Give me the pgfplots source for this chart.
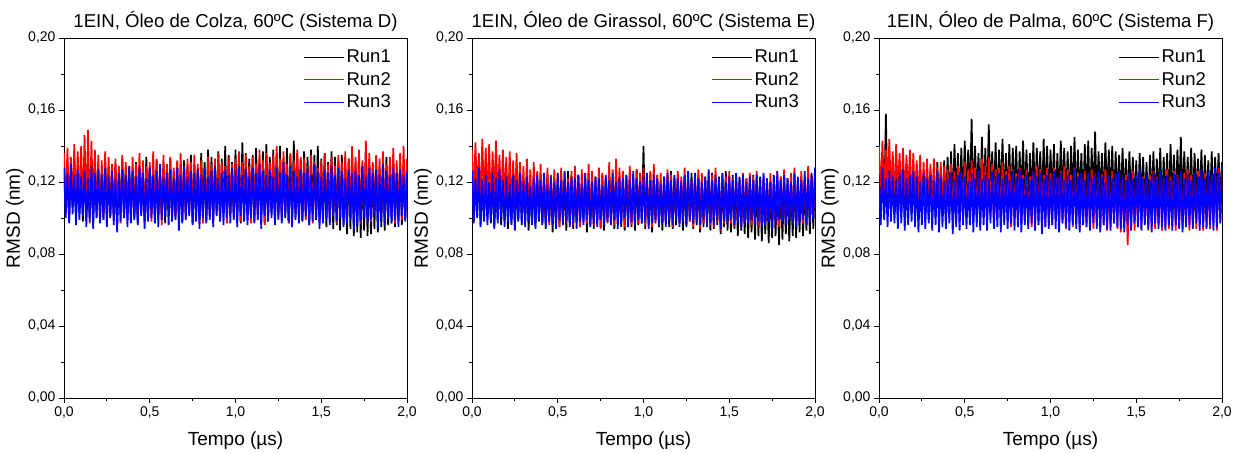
\documentclass[border=0pt]{standalone}
\usepackage{pgfplots}
\usepackage{pgfplotstable}
\pgfplotsset{compat=1.18}
\usepackage{fontspec}
\setmainfont{Liberation Sans}

% RMSD values in pm (0.001 nm), one value every 0.01 us
\pgfplotstableread[row sep=\\,header=false]{
128\\104\\131\\99\\125\\107\\133\\101\\127\\103\\
124\\98\\130\\105\\126\\100\\129\\97\\132\\104\\
127\\102\\125\\99\\131\\106\\128\\100\\124\\103\\
130\\98\\126\\104\\133\\101\\127\\99\\129\\105\\
125\\100\\131\\97\\128\\103\\126\\101\\134\\99\\
129\\104\\127\\98\\132\\102\\125\\100\\130\\97\\
128\\105\\133\\101\\126\\99\\131\\103\\127\\98\\
132\\100\\129\\104\\135\\97\\130\\102\\128\\99\\
136\\103\\131\\98\\138\\101\\134\\100\\129\\104\\
137\\99\\133\\102\\140\\98\\135\\103\\131\\100\\
138\\101\\134\\97\\142\\103\\136\\99\\133\\102\\
135\\98\\139\\104\\132\\100\\137\\97\\141\\101\\
134\\103\\138\\99\\136\\102\\140\\98\\133\\100\\
139\\97\\135\\101\\143\\99\\136\\103\\132\\98\\
137\\100\\134\\96\\138\\102\\135\\99\\140\\97\\
133\\101\\136\\95\\131\\98\\137\\94\\134\\96\\
132\\93\\135\\96\\130\\91\\133\\94\\136\\90\\
131\\92\\134\\89\\129\\93\\136\\90\\132\\91\\
130\\94\\133\\92\\128\\95\\131\\93\\134\\96\\
129\\97\\132\\95\\127\\98\\130\\96\\128\\99\\
127\\
}\DAa
\pgfplotstableread[row sep=\\,header=false]{
136\\105\\139\\101\\134\\108\\141\\103\\137\\106\\
140\\102\\146\\99\\149\\97\\143\\104\\138\\100\\
135\\98\\132\\101\\137\\96\\134\\103\\130\\99\\
133\\102\\129\\97\\135\\100\\131\\104\\128\\98\\
134\\101\\130\\99\\136\\103\\132\\97\\129\\102\\
131\\98\\137\\100\\133\\102\\129\\96\\135\\101\\
130\\104\\134\\99\\128\\101\\132\\97\\136\\103\\
129\\100\\133\\102\\131\\98\\135\\101\\130\\99\\
132\\97\\128\\103\\134\\100\\130\\98\\133\\102\\
136\\99\\131\\101\\129\\97\\134\\104\\130\\100\\
133\\102\\137\\98\\131\\100\\135\\103\\129\\97\\
134\\101\\130\\99\\138\\102\\132\\96\\136\\100\\
131\\103\\135\\98\\140\\101\\133\\99\\137\\102\\
130\\97\\136\\100\\132\\103\\138\\98\\134\\101\\
133\\99\\129\\102\\135\\97\\131\\100\\128\\103\\
132\\98\\136\\101\\130\\99\\134\\102\\129\\97\\
135\\100\\131\\103\\137\\98\\133\\101\\140\\99\\
134\\102\\138\\97\\132\\100\\143\\103\\136\\98\\
131\\101\\135\\99\\133\\102\\137\\98\\130\\100\\
134\\103\\139\\97\\132\\101\\136\\99\\140\\102\\
133\\
}\DAb
\pgfplotstableread[row sep=\\,header=false]{
128\\100\\125\\97\\130\\102\\124\\96\\127\\99\\
123\\101\\126\\95\\122\\98\\129\\94\\125\\100\\
127\\97\\124\\99\\128\\95\\123\\101\\126\\96\\
122\\92\\125\\98\\127\\100\\124\\95\\128\\97\\
126\\99\\123\\96\\129\\101\\125\\94\\122\\98\\
128\\100\\124\\97\\126\\95\\130\\99\\123\\101\\
125\\96\\127\\98\\122\\100\\128\\93\\124\\97\\
129\\99\\123\\101\\126\\96\\125\\98\\127\\94\\
124\\100\\128\\97\\123\\99\\126\\95\\129\\101\\
122\\98\\125\\96\\127\\100\\124\\97\\128\\99\\
126\\95\\129\\101\\124\\98\\127\\96\\123\\100\\
128\\97\\125\\99\\130\\94\\126\\101\\124\\98\\
127\\100\\123\\96\\128\\99\\125\\97\\131\\101\\
124\\98\\129\\95\\126\\100\\123\\97\\127\\99\\
125\\101\\128\\96\\124\\98\\130\\100\\126\\94\\
123\\97\\127\\99\\125\\96\\129\\101\\124\\98\\
128\\100\\126\\95\\122\\97\\127\\99\\125\\93\\
126\\96\\124\\98\\129\\100\\123\\97\\128\\99\\
125\\101\\127\\94\\124\\98\\130\\96\\126\\100\\
123\\97\\128\\99\\125\\95\\127\\101\\124\\98\\
126\\
}\DAc
\pgfplotstableread[row sep=\\,header=false]{
124\\98\\121\\101\\126\\96\\122\\99\\125\\100\\
120\\97\\123\\95\\119\\99\\124\\96\\121\\98\\
122\\94\\125\\97\\120\\95\\123\\98\\126\\96\\
121\\99\\124\\93\\118\\97\\122\\95\\125\\98\\
123\\96\\120\\94\\124\\98\\121\\92\\119\\97\\
125\\95\\122\\98\\120\\93\\126\\96\\123\\94\\
121\\97\\124\\95\\119\\98\\122\\92\\125\\96\\
120\\94\\123\\97\\121\\95\\124\\93\\122\\98\\
126\\96\\121\\94\\123\\97\\120\\95\\125\\93\\
122\\98\\124\\95\\121\\93\\127\\96\\123\\97\\
140\\94\\122\\96\\125\\92\\121\\97\\124\\95\\
120\\93\\123\\98\\121\\95\\126\\94\\122\\96\\
124\\97\\120\\93\\123\\95\\121\\98\\125\\94\\
122\\96\\124\\92\\120\\95\\123\\97\\121\\93\\
125\\94\\121\\96\\123\\91\\122\\95\\126\\93\\
120\\92\\124\\94\\121\\90\\123\\93\\119\\91\\
122\\89\\120\\92\\124\\88\\121\\90\\123\\87\\
119\\91\\122\\86\\120\\89\\124\\90\\121\\85\\
123\\88\\120\\91\\122\\87\\119\\90\\124\\89\\
121\\92\\123\\90\\120\\93\\122\\91\\125\\94\\
122\\
}\DBa
\pgfplotstableread[row sep=\\,header=false]{
138\\108\\142\\112\\136\\106\\144\\110\\139\\107\\
141\\105\\137\\111\\143\\108\\135\\106\\138\\110\\
134\\104\\137\\102\\132\\107\\136\\103\\131\\105\\
129\\100\\133\\102\\127\\98\\131\\101\\126\\99\\
130\\97\\125\\100\\128\\96\\124\\99\\127\\98\\
123\\95\\128\\99\\125\\97\\122\\100\\126\\96\\
129\\98\\124\\95\\127\\100\\125\\97\\130\\99\\
126\\96\\122\\99\\128\\94\\125\\98\\123\\97\\
131\\99\\127\\96\\133\\100\\128\\97\\126\\95\\
124\\98\\129\\96\\122\\99\\127\\97\\125\\100\\
128\\96\\123\\99\\126\\95\\130\\98\\124\\97\\
125\\99\\121\\96\\127\\98\\124\\95\\122\\99\\
126\\97\\123\\100\\128\\96\\124\\98\\121\\95\\
123\\98\\127\\94\\125\\97\\122\\99\\126\\96\\
124\\95\\128\\98\\121\\93\\125\\97\\123\\99\\
126\\97\\122\\95\\124\\99\\121\\96\\125\\98\\
122\\99\\125\\96\\123\\98\\126\\95\\121\\97\\
124\\96\\121\\98\\125\\94\\122\\97\\126\\95\\
123\\98\\127\\96\\122\\99\\125\\97\\128\\96\\
121\\99\\126\\97\\123\\96\\129\\98\\124\\100\\
127\\
}\DBb
\pgfplotstableread[row sep=\\,header=false]{
126\\97\\122\\100\\128\\95\\121\\98\\124\\96\\
120\\99\\125\\94\\122\\97\\127\\100\\121\\95\\
123\\98\\119\\96\\124\\93\\121\\99\\125\\97\\
120\\95\\123\\98\\118\\96\\122\\94\\124\\99\\
121\\97\\125\\95\\119\\98\\123\\96\\120\\94\\
124\\99\\121\\96\\126\\98\\120\\95\\123\\97\\
122\\94\\124\\98\\119\\96\\125\\99\\121\\95\\
120\\97\\123\\95\\122\\99\\118\\96\\124\\98\\
121\\96\\125\\99\\120\\94\\123\\97\\122\\100\\
124\\95\\121\\98\\126\\96\\122\\99\\120\\97\\
123\\98\\125\\94\\121\\97\\124\\99\\122\\96\\
119\\97\\123\\95\\125\\98\\121\\96\\124\\99\\
122\\95\\120\\98\\124\\96\\126\\99\\121\\97\\
125\\98\\122\\96\\120\\99\\123\\95\\127\\97\\
121\\96\\124\\99\\122\\94\\125\\98\\120\\97\\
123\\99\\121\\96\\125\\98\\122\\95\\124\\97\\
120\\97\\123\\99\\121\\96\\124\\98\\122\\95\\
125\\96\\122\\98\\120\\94\\123\\97\\126\\99\\
121\\98\\124\\96\\122\\99\\120\\97\\125\\95\\
123\\97\\121\\99\\126\\96\\122\\98\\124\\100\\
128\\
}\DBc
\pgfplotstableread[row sep=\\,header=false]{
128\\106\\133\\102\\158\\105\\131\\103\\129\\107\\
127\\101\\132\\104\\126\\100\\130\\105\\128\\102\\
125\\103\\129\\100\\127\\104\\124\\101\\130\\99\\
126\\104\\128\\101\\131\\106\\127\\103\\132\\105\\
134\\108\\137\\104\\141\\110\\136\\107\\139\\106\\
143\\109\\138\\111\\155\\107\\140\\112\\136\\108\\
145\\110\\139\\106\\152\\111\\137\\109\\142\\107\\
138\\112\\144\\108\\136\\110\\141\\106\\139\\111\\
140\\107\\137\\111\\143\\109\\138\\105\\136\\110\\
142\\108\\139\\112\\137\\106\\144\\110\\140\\109\\
138\\111\\141\\107\\136\\109\\143\\112\\139\\108\\
137\\106\\140\\110\\145\\108\\138\\111\\136\\107\\
141\\109\\143\\106\\139\\110\\148\\108\\137\\112\\
136\\107\\142\\111\\138\\109\\140\\106\\137\\110\\
135\\108\\139\\110\\133\\107\\137\\109\\134\\106\\
132\\105\\136\\109\\134\\107\\131\\104\\135\\108\\
137\\106\\133\\110\\139\\105\\134\\108\\136\\107\\
141\\109\\135\\106\\138\\110\\145\\107\\137\\109\\
134\\108\\139\\105\\136\\110\\133\\107\\138\\106\\
135\\109\\132\\107\\137\\105\\134\\110\\136\\108\\
131\\
}\DCa
\pgfplotstableread[row sep=\\,header=false]{
140\\110\\143\\112\\138\\108\\144\\111\\137\\109\\
141\\113\\136\\108\\139\\110\\135\\112\\138\\107\\
136\\106\\132\\109\\135\\104\\131\\107\\133\\105\\
130\\103\\133\\100\\128\\104\\131\\101\\129\\99\\
127\\102\\130\\98\\126\\100\\129\\97\\125\\101\\
131\\99\\127\\101\\132\\98\\128\\100\\126\\97\\
133\\100\\129\\98\\134\\101\\130\\96\\127\\99\\
128\\97\\131\\100\\126\\98\\129\\95\\127\\99\\
125\\98\\128\\96\\124\\99\\127\\97\\123\\95\\
126\\99\\129\\96\\127\\98\\124\\95\\128\\97\\
125\\96\\128\\99\\123\\95\\126\\97\\129\\94\\
127\\98\\124\\95\\128\\97\\125\\94\\122\\96\\
126\\95\\123\\97\\127\\94\\124\\96\\125\\93\\
124\\96\\127\\93\\123\\95\\126\\97\\122\\94\\
125\\92\\121\\96\\124\\85\\123\\95\\126\\93\\
122\\96\\125\\94\\123\\97\\121\\93\\124\\95\\
126\\94\\123\\96\\125\\93\\122\\95\\127\\94\\
123\\96\\126\\93\\124\\95\\121\\94\\125\\96\\
127\\93\\124\\95\\122\\94\\126\\96\\123\\93\\
125\\95\\122\\94\\124\\96\\126\\93\\128\\97\\
124\\
}\DCb
\pgfplotstableread[row sep=\\,header=false]{
124\\96\\128\\99\\122\\95\\126\\98\\123\\97\\
121\\94\\125\\97\\127\\93\\122\\96\\124\\98\\
126\\95\\123\\92\\120\\96\\125\\94\\122\\97\\
124\\93\\121\\96\\126\\92\\123\\95\\120\\94\\
122\\97\\125\\91\\121\\95\\124\\93\\126\\96\\
123\\94\\120\\96\\125\\92\\122\\95\\127\\93\\
121\\96\\124\\93\\122\\97\\126\\94\\123\\95\\
125\\92\\122\\96\\124\\94\\121\\97\\126\\93\\
123\\95\\127\\92\\122\\96\\124\\94\\121\\97\\
126\\93\\123\\96\\125\\91\\122\\95\\124\\94\\
122\\96\\126\\94\\123\\92\\125\\97\\121\\95\\
124\\93\\121\\96\\127\\94\\123\\92\\125\\96\\
121\\95\\125\\93\\122\\97\\124\\94\\126\\92\\
123\\96\\120\\94\\124\\93\\122\\97\\125\\95\\
126\\94\\123\\92\\121\\96\\125\\93\\122\\97\\
124\\95\\127\\93\\122\\96\\124\\94\\121\\92\\
125\\97\\122\\94\\126\\95\\123\\93\\124\\96\\
121\\93\\125\\96\\123\\94\\126\\92\\122\\95\\
124\\96\\121\\94\\125\\97\\123\\93\\127\\95\\
122\\94\\126\\96\\124\\93\\128\\95\\125\\97\\
129\\
}\DCc

\pgfplotsset{
  rmsd/.style={
    scale only axis, width=343pt, height=360pt, anchor=south west,
    xmin=0, xmax=2, ymin=0, ymax=0.2,
    xtick={0,0.5,1,1.5,2}, minor xtick={0.25,0.75,1.25,1.75},
    ytick={0,0.04,0.08,0.12,0.16,0.2}, minor ytick={0.02,0.06,0.1,0.14,0.18},
    tick align=outside, xtick pos=bottom, ytick pos=left,
    major tick length=5pt, minor tick length=3pt,
    every tick/.style={black, line width=0.8pt},
    axis line style={line width=0.8pt},
    xticklabel style={/pgf/number format/.cd, fixed, fixed zerofill, precision=1, use comma, assume math mode=true},
    yticklabel style={/pgf/number format/.cd, fixed, fixed zerofill, precision=2, use comma, assume math mode=true},
    tick label style={font=\fontsize{14}{14}\selectfont},
    scaled ticks=false,
    xlabel={Tempo (µs)}, ylabel={RMSD (nm)},
    label style={font=\fontsize{19}{19}\selectfont},
    x label style={at={(axis description cs:0.5,-0.117)}, anchor=center},
    y label style={at={(axis description cs:-0.143,0.5)}, anchor=center, rotate=0},
    title style={at={(axis description cs:0.5,1.03)}, anchor=center, font=\fontsize{18.6}{18.6}\selectfont},
    legend style={at={(axis description cs:0.968,0.978)}, anchor=north east, draw=none, fill=none,
      font=\fontsize{18.5}{18.5}\selectfont, row sep=4pt, cells={anchor=west}},
    legend image code/.code={\draw[#1, line width=0.8pt] (0pt,0pt) -- (40pt,0pt);},
    every axis plot/.append style={line width=1.7pt, mark=none, line join=bevel},
  },
}

\begin{document}
\begin{tikzpicture}
\useasboundingbox (0,0) rectangle (1240pt,454pt);
\begin{axis}[rmsd, at={(64pt,56pt)}, title={1EIN, Óleo de Colza, 60ºC (Sistema D)}]
\addplot[black] table[x index=0, y index=0, x expr=\coordindex/100, y expr=\thisrowno{0}/1000] {\DAa};
\addplot[red] table[x index=0, y index=0, x expr=\coordindex/100, y expr=\thisrowno{0}/1000] {\DAb};
\addplot[blue] table[x index=0, y index=0, x expr=\coordindex/100, y expr=\thisrowno{0}/1000] {\DAc};
\legend{Run1,Run2,Run3}
\end{axis}
\begin{axis}[rmsd, at={(472pt,56pt)}, title={1EIN, Óleo de Girassol, 60ºC (Sistema E)}]
\addplot[black] table[x index=0, y index=0, x expr=\coordindex/100, y expr=\thisrowno{0}/1000] {\DBa};
\addplot[red] table[x index=0, y index=0, x expr=\coordindex/100, y expr=\thisrowno{0}/1000] {\DBb};
\addplot[blue] table[x index=0, y index=0, x expr=\coordindex/100, y expr=\thisrowno{0}/1000] {\DBc};
\legend{Run1,Run2,Run3}
\end{axis}
\begin{axis}[rmsd, at={(879pt,56pt)}, title={1EIN, Óleo de Palma, 60ºC (Sistema F)}]
\addplot[black] table[x index=0, y index=0, x expr=\coordindex/100, y expr=\thisrowno{0}/1000] {\DCa};
\addplot[red] table[x index=0, y index=0, x expr=\coordindex/100, y expr=\thisrowno{0}/1000] {\DCb};
\addplot[blue] table[x index=0, y index=0, x expr=\coordindex/100, y expr=\thisrowno{0}/1000] {\DCc};
\legend{Run1,Run2,Run3}
\end{axis}
\end{tikzpicture}
\end{document}
